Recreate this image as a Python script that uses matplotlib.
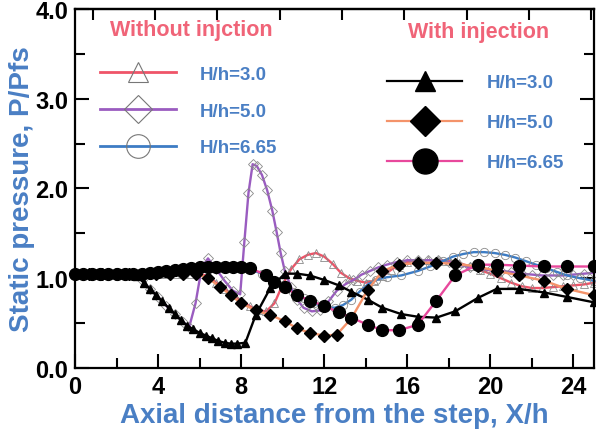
import numpy as np
import matplotlib
matplotlib.use("Agg")
import matplotlib.pyplot as plt
from matplotlib.lines import Line2D

plt.rcParams['font.family'] = ['Liberation Sans', 'DejaVu Sans']
plt.rcParams['font.weight'] = 'bold'

# ---- without injection (open markers) ----
x_wo3 = [0, 0.4, 0.8, 1.2, 1.6, 2.0, 2.4, 2.8, 3.2, 3.6, 4.0, 4.4, 4.8, 5.2, 5.6, 6.0,
         6.4, 6.8, 7.2, 7.6, 8.0, 8.4, 8.8, 9.2, 9.6, 10.0, 10.4, 10.8, 11.2, 11.6, 12.0,
         12.4, 12.8, 13.2, 13.6, 14.0, 14.4, 14.8, 15.2, 15.6, 16.0, 16.5, 17.0, 17.5,
         18.0, 18.5, 19.0, 19.5, 20.0, 20.5, 21.0, 21.5, 22.0, 22.5, 23.0, 23.5, 24.0,
         24.5, 25.0]
y_wo3 = [1.05, 1.05, 1.05, 1.05, 1.05, 1.05, 1.05, 1.05, 1.05, 1.05, 1.05, 1.05, 1.05,
         1.05, 1.05, 1.05, 1.02, 0.95, 0.88, 0.81, 0.75, 0.69, 0.64, 0.63, 0.72, 0.93,
         1.10, 1.21, 1.26, 1.28, 1.24, 1.16, 1.06, 1.00, 0.97, 0.95, 0.97, 1.02, 1.09,
         1.15, 1.18, 1.20, 1.20, 1.20, 1.19, 1.17, 1.13, 1.09, 1.05, 1.00, 0.95, 0.91,
         0.89, 0.89, 0.90, 0.91, 0.92, 0.93, 0.95]

x_wo5 = [0, 0.4, 0.8, 1.2, 1.6, 2.0, 2.4, 2.8, 3.2, 3.6, 4.0, 4.4, 4.8, 5.2, 5.5, 5.8,
         6.1, 6.4, 6.8, 7.2, 7.6, 7.95, 8.15, 8.35, 8.55, 8.75, 9.0, 9.25, 9.5, 9.7, 9.9,
         10.1, 10.4, 10.7, 11.0, 11.4, 11.8, 12.2, 12.6, 13.0, 13.4, 13.8, 14.2, 14.6,
         15.0, 15.5, 16.0, 16.5, 17.0, 17.5, 18.0, 18.5, 19.0, 19.5, 20.0, 20.5, 21.0,
         21.5, 22.0, 22.5, 23.0, 23.5, 24.0, 24.5, 25.0]
y_wo5 = [1.05, 1.05, 1.05, 1.05, 1.05, 1.05, 1.05, 1.05, 0.98, 0.88, 0.79, 0.69, 0.60,
         0.51, 0.46, 0.72, 1.12, 1.22, 1.10, 0.97, 0.86, 0.82, 1.40, 1.95, 2.27, 2.25,
         2.15, 1.98, 1.75, 1.52, 1.28, 1.08, 0.90, 0.76, 0.67, 0.63, 0.64, 0.74, 0.86,
         0.93, 0.98, 1.04, 1.08, 1.12, 1.15, 1.18, 1.20, 1.20, 1.20, 1.20, 1.18, 1.15,
         1.12, 1.10, 1.09, 1.08, 1.07, 1.05, 1.04, 1.03, 1.03, 1.03, 1.04, 1.05, 1.06]

x_wo665 = [0, 0.6, 1.2, 1.8, 2.4, 3.0, 3.6, 4.2, 4.8, 5.4, 6.0, 6.6, 7.2, 7.8, 8.4, 9.0,
           9.5, 10.0, 10.5, 11.0, 11.5, 12.0, 12.5, 12.9, 13.3, 13.7, 14.1, 14.5, 15.0,
           15.7, 16.5, 17.1, 17.7, 18.2, 18.7, 19.2, 19.7, 20.2, 20.7, 21.2, 21.7, 22.2,
           22.7, 23.2, 23.7, 24.3, 25.0]
y_wo665 = [1.05, 1.05, 1.05, 1.05, 1.05, 1.05, 1.06, 1.07, 1.08, 1.09, 1.10, 1.11, 1.12,
           1.12, 1.10, 1.05, 0.98, 0.92, 0.85, 0.78, 0.72, 0.68, 0.67, 0.70, 0.76, 0.85,
           0.93, 0.98, 1.01, 1.03, 1.08, 1.13, 1.19, 1.24, 1.27, 1.29, 1.29, 1.28, 1.26,
           1.23, 1.19, 1.15, 1.11, 1.07, 1.03, 1.00, 0.97]

# ---- with injection (filled black markers) ----
x_w3 = [0, 0.3, 0.6, 0.9, 1.2, 1.5, 1.8, 2.1, 2.4, 2.7, 3.0, 3.3, 3.6, 3.9, 4.2, 4.5,
        4.8, 5.1, 5.4, 5.7, 6.0, 6.3, 6.6, 6.9, 7.2, 7.5, 7.8, 8.2, 8.7, 9.4, 10.1, 10.7,
        11.3, 12.0, 12.7, 13.3, 14.1, 14.8, 15.7, 16.5, 17.4, 18.3, 19.4, 20.3, 21.4,
        22.6, 23.7, 25.0]
y_w3 = [1.05, 1.05, 1.05, 1.05, 1.05, 1.05, 1.05, 1.05, 1.05, 1.05, 1.02, 0.95, 0.88,
        0.81, 0.74, 0.67, 0.60, 0.53, 0.47, 0.43, 0.39, 0.36, 0.33, 0.30, 0.28, 0.27,
        0.27, 0.28, 0.59, 0.89, 1.05, 1.05, 1.03, 0.98, 0.92, 0.85, 0.76, 0.67, 0.60,
        0.57, 0.56, 0.63, 0.78, 0.88, 0.88, 0.84, 0.79, 0.73]

x_w5 = [0, 0.65, 1.3, 1.95, 2.6, 3.25, 3.9, 4.55, 5.2, 5.8, 6.4, 7.0, 7.5, 8.0, 8.7, 9.4,
        10.1, 10.7, 11.3, 12.0, 12.6, 13.3, 14.1, 14.8, 15.6, 16.5, 17.4, 18.3, 19.4,
        20.3, 21.4, 22.6, 23.7, 25.0]
y_w5 = [1.05, 1.05, 1.05, 1.05, 1.05, 1.05, 1.05, 1.05, 1.05, 1.05, 1.00, 0.90, 0.81,
        0.72, 0.64, 0.59, 0.52, 0.44, 0.39, 0.36, 0.37, 0.55, 0.87, 1.08, 1.15, 1.17,
        1.17, 1.16, 1.13, 1.08, 1.03, 0.97, 0.88, 0.81]

x_w665 = [0, 0.4, 0.8, 1.2, 1.6, 2.0, 2.4, 2.8, 3.2, 3.6, 4.0, 4.4, 4.8, 5.2, 5.6, 6.0,
          6.4, 6.8, 7.2, 7.6, 8.0, 8.4, 9.2, 9.6, 10.1, 10.7, 11.3, 12.0, 12.7, 13.3,
          14.1, 14.8, 15.6, 16.5, 17.4, 18.3, 19.4, 20.3, 21.4, 22.6, 23.7, 25.0]
y_w665 = [1.05, 1.05, 1.05, 1.05, 1.05, 1.05, 1.05, 1.05, 1.05, 1.06, 1.07, 1.08, 1.09,
          1.10, 1.11, 1.12, 1.12, 1.12, 1.12, 1.12, 1.12, 1.11, 1.04, 0.96, 0.90, 0.81,
          0.75, 0.69, 0.62, 0.56, 0.48, 0.42, 0.42, 0.48, 0.75, 1.03, 1.15, 1.15, 1.14,
          1.13, 1.13, 1.13]

labels = ["H/h=3.0", "H/h=5.0", "H/h=6.65"]
red, purple, blue = "#ef5468", "#9a5cc0", "#3d7cc4"
orange, pink = "#f4936a", "#e8489c"
txt_blue = "#4a7fc4"
title_red = "#f06478"
gray = "#8a8a8a"

fig = plt.figure(figsize=(5.96, 4.35), dpi=100)
ax = fig.add_axes([0.126, 0.152, 0.871, 0.825])

open_style = dict(mfc="none", mec=gray, mew=0.6, lw=1.7, clip_on=False, zorder=2)
ax.plot(x_wo3, y_wo3, color=red, marker="^", ms=6, **open_style)
ax.plot(x_wo5, y_wo5, color=purple, marker="D", ms=5.5, **open_style)
ax.plot(x_wo665, y_wo665, color=blue, marker="o", ms=6, **open_style)

fill_style = dict(mfc="black", mec="black", lw=1.7, clip_on=False, zorder=3)
ax.plot(x_w3, y_w3, color="black", marker="^", ms=6, **fill_style)
ax.plot(x_w5, y_w5, color=orange, marker="D", ms=6, **fill_style)
ax.plot(x_w665, y_w665, color=pink, marker="o", ms=8.5, **fill_style)

ax.set_xlim(0, 25)
ax.set_ylim(0, 4)
ax.set_xticks(np.arange(0, 25, 4))
ax.set_xticks(np.arange(2, 25, 4), minor=True)
ax.set_yticks(np.arange(0, 4.1, 1))
ax.set_yticks(np.arange(0.5, 4, 1), minor=True)
ax.set_yticklabels([f"{v:.1f}" for v in np.arange(0, 4.1, 1)])
ax.tick_params(which="both", direction="in", width=1.5, labelsize=17,
               top=False, right=True, pad=5)
ax.tick_params(which="major", length=10)
ax.tick_params(which="minor", length=7)
for s in ax.spines.values():
    s.set_linewidth(1.6)

top = ax.secondary_xaxis("top")
top.set_xticks(np.arange(0.85, 25, 3))
top.set_xticklabels([])
top.tick_params(direction="in", length=8, width=1.5)
top.spines["top"].set_linewidth(1.6)

ax.set_xlabel("Axial distance from the step, X/h", fontsize=20, color=txt_blue,
              fontweight="bold", labelpad=3)
ax.set_ylabel("Static pressure, P/Pfs", fontsize=20, color=txt_blue,
              fontweight="bold", labelpad=0)

h_wo = [Line2D([], [], color=c, lw=2, marker=m, ms=ms, mfc="none", mec="#777777", mew=0.8)
        for c, m, ms in [(red, "^", 15), (purple, "D", 14), (blue, "o", 17)]]
h_w = [Line2D([], [], color=c, lw=1.6, marker=m, ms=ms, mfc="black", mec="black")
       for c, m, ms in [("black", "^", 15), (orange, "D", 15), (pink, "o", 18)]]

leg1 = ax.legend(h_wo, labels, loc="upper left", bbox_to_anchor=(0.048, 0.842),
                 frameon=False, fontsize=13.5, labelcolor=txt_blue, handlelength=4.05,
                 handletextpad=1.28, labelspacing=1.05, borderpad=0, borderaxespad=0)
ax.add_artist(leg1)
ax.legend(h_w, labels, loc="upper left", bbox_to_anchor=(0.601, 0.818),
          frameon=False, fontsize=13.5, labelcolor=txt_blue, handlelength=4.0,
          handletextpad=1.33, labelspacing=1.22, borderpad=0, borderaxespad=0)

ax.text(0.2235, 0.944, "Without injction", transform=ax.transAxes, ha="center",
        va="center", fontsize=15.5, color=title_red)
ax.text(0.778, 0.936, "With injection", transform=ax.transAxes, ha="center",
        va="center", fontsize=15.5, color=title_red)

fig.savefig("out.png", dpi=100)
